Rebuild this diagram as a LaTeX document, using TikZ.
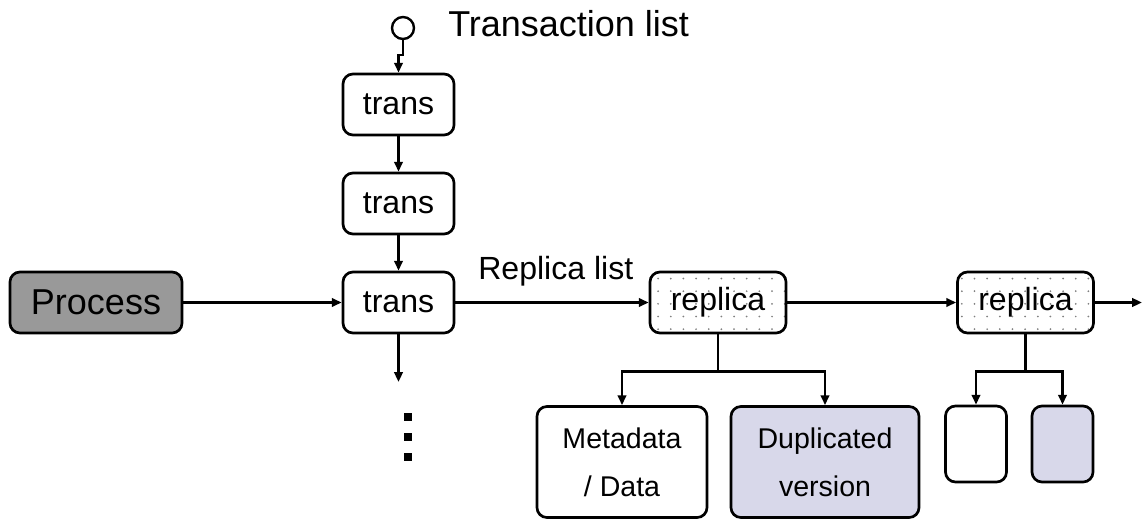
\documentclass[tikz,border=0pt]{standalone}
\usepackage{fontspec}
\setmainfont{Liberation Sans}
\usepackage{tikz}
\usetikzlibrary{shapes,arrows.meta,positioning,calc,patterns.meta}
\definecolor{procgray}{RGB}{153,153,153}
\definecolor{dupcolor}{RGB}{216,216,234}
\newcommand{\bigtxt}{\fontsize{25.6pt}{30pt}\selectfont}
\newcommand{\midtxt}{\fontsize{22.8pt}{27pt}\selectfont}
\newcommand{\smalltxt}{\fontsize{20.3pt}{34pt}\selectfont}

\begin{document}
\begin{tikzpicture}[x=0.025cm, y=-0.025cm,
    box/.style={draw, line width=1.9pt, rounded corners=0.25cm, inner sep=0pt, align=center},
    transbox/.style={box, minimum width=2.775cm, minimum height=1.525cm, font=\midtxt},
    procbox/.style={box, fill=procgray, minimum width=4.3cm, minimum height=1.525cm, font=\bigtxt},
    repbox/.style={box, pattern={Dots[radius=0.7pt, distance=9pt]}, pattern color=black!50,
        minimum width=3.4cm, minimum height=1.525cm, font=\midtxt},
    databox/.style={box, minimum height=2.775cm, font=\smalltxt},
    emptybox/.style={box, minimum width=1.525cm, minimum height=1.9cm},
    arr/.style={line width=1.7pt, -{Triangle[length=7pt, width=6pt]}},
    line/.style={line width=1.7pt},
    dotsq/.style={fill=black, minimum size=0.2cm, inner sep=0pt}]

    \useasboundingbox (0,0) rectangle (1143,519);

    % Transaction list head
    \node[circle, draw, line width=1.7pt, minimum size=0.55cm, inner sep=0pt] (head) at (403,28) {};
    \node[anchor=base west, inner sep=0pt, font=\bigtxt] (tlist) at (448,37) {Transaction list};

    % Transactions
    \node[transbox] (t1) at (398.5,104.5) {trans};
    \node[transbox] (t2) at (398.5,203.5) {trans};
    \node[transbox] (t3) at (398.5,302.5) {trans};
    \node[procbox] (proc) at (96,302.5) {Process};

    % Replicas
    \node[repbox] (r1) at (718,302.5) {replica};
    \node[repbox] (r2) at (1025.5,302.5) {replica};
    \node[anchor=base west, inner sep=0pt, font=\midtxt] (rlist) at (478,279) {Replica list};

    % Replica contents
    \node[databox, minimum width=4.25cm] (meta) at (622,462) {Metadata\\/ Data};
    \node[databox, fill=dupcolor, minimum width=4.7cm] (dup) at (825,462) {Duplicated\\version};
    \node[emptybox] (e1) at (976,444) {};
    \node[emptybox, fill=dupcolor] (e2) at (1062.5,444) {};

    % Links
    \draw[arr] (head.south) -- ++(0,15) -| (t1.north);
    \draw[arr] (t1) -- (t2);
    \draw[arr] (t2) -- (t3);
    \draw[arr] (proc) -- (t3);
    \draw[arr] (t3) -- (r1);
    \draw[arr] (r1) -- (r2);
    \coordinate (rend) at (1142,302.5);
    \draw[arr] (r2) -- (rend);
    \coordinate (tend) at (398.5,382);
    \draw[arr] (t3) -- (tend);

    % Branches
    \draw[line] (r1.south) -- ++(0,37) coordinate (s1);
    \draw[arr] (s1) -| (meta.north);
    \draw[arr] (s1) -| (dup.north);
    \draw[line] (r2.south) -- ++(0,37) coordinate (s2);
    \draw[arr] (s2) -| (e1.north);
    \draw[arr] (s2) -| (e2.north);

    % More transactions
    \foreach \y [count=\i] in {417,437,457} \node[dotsq] (d\i) at (408,\y) {};

\end{tikzpicture}
\end{document}
